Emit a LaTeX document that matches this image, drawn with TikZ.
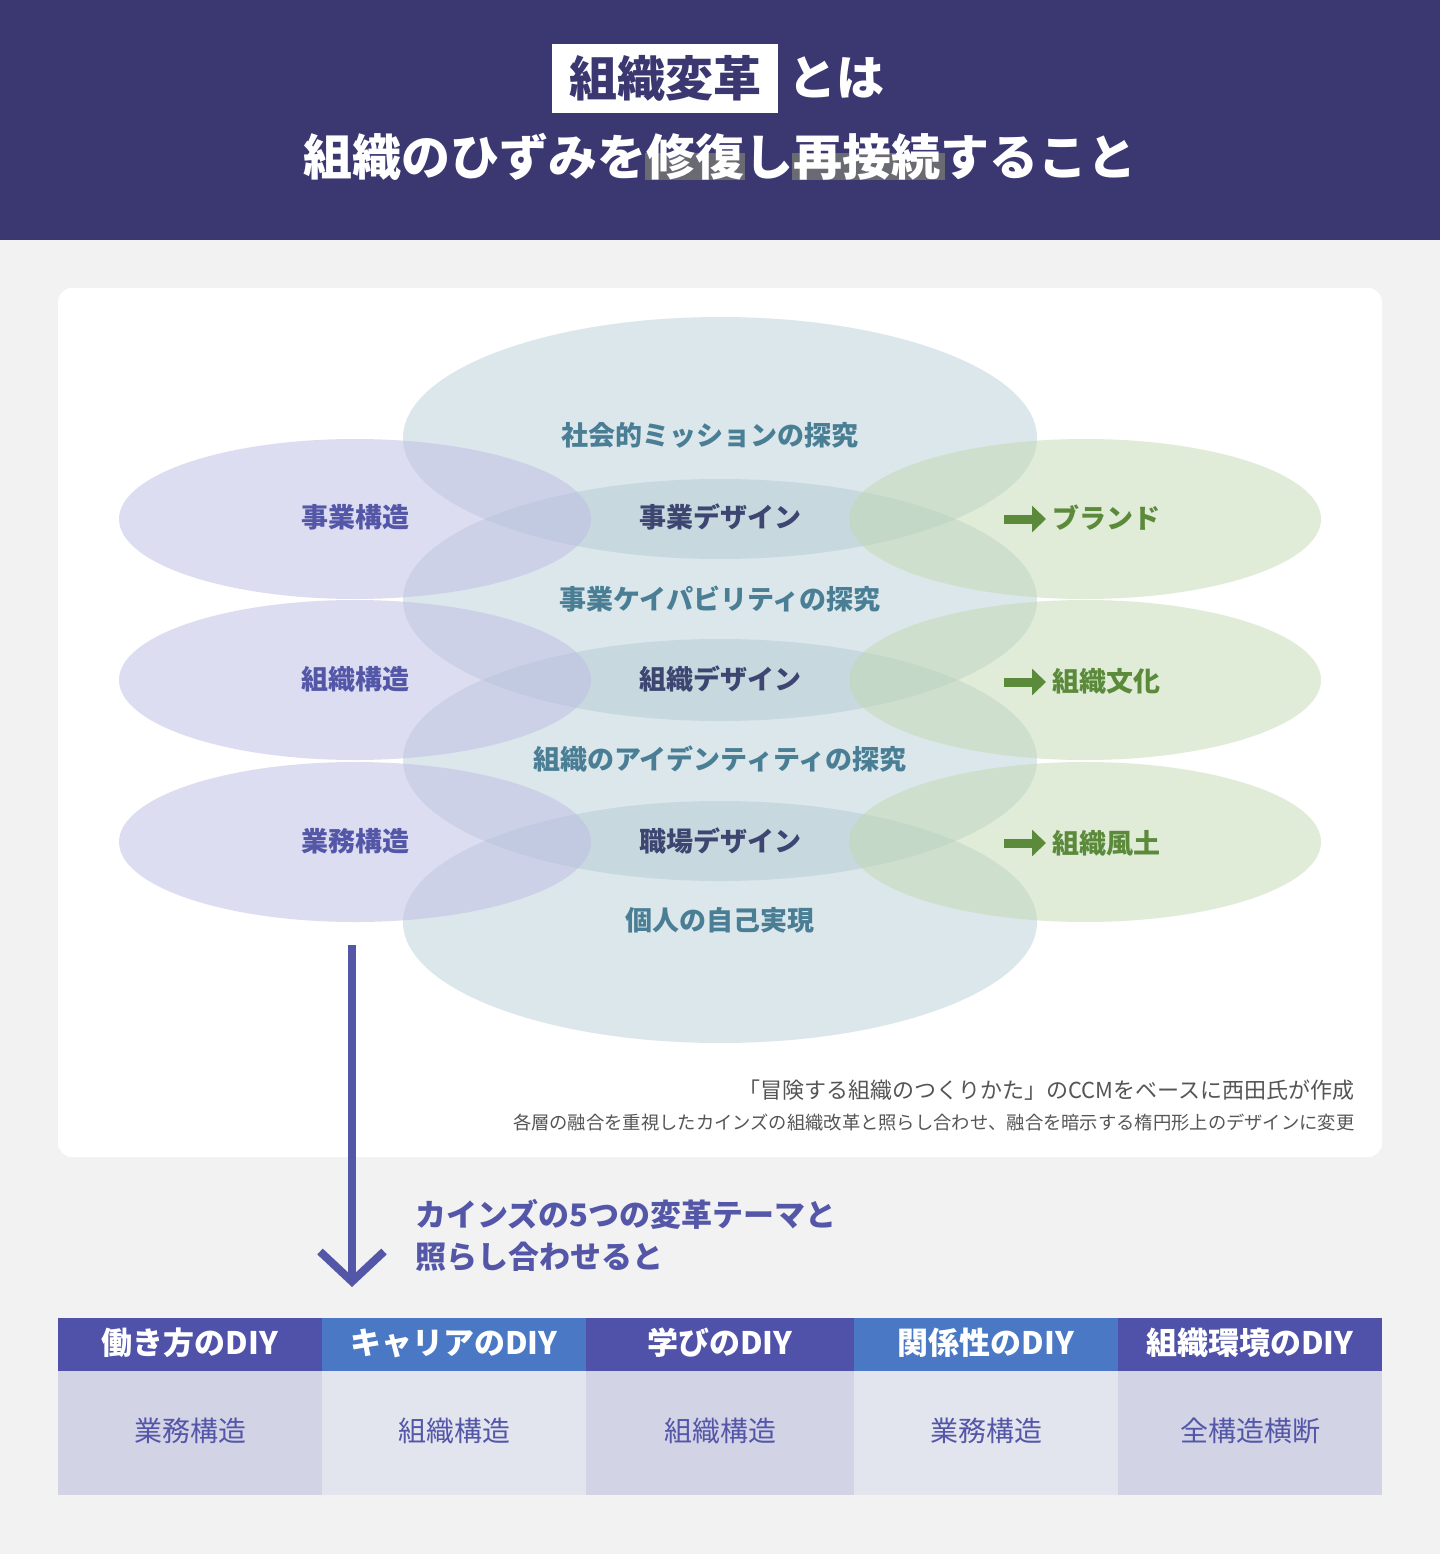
\documentclass[tikz,border=0pt]{standalone}
\usepackage{fontspec}
\setmainfont{Noto Sans CJK JP}
\usetikzlibrary{arrows.meta}
\definecolor{navy}{HTML}{3A3771}
\definecolor{bggray}{HTML}{F2F2F2}
\definecolor{hlgray}{HTML}{6A6A72}
\definecolor{midblue}{HTML}{A9C3CD}
\definecolor{lavender}{HTML}{BDBDE4}
\definecolor{leafgreen}{HTML}{C3D8B2}
\definecolor{purpletext}{HTML}{5457A8}
\definecolor{tealtext}{HTML}{4A7E95}
\definecolor{darktext}{HTML}{3D4670}
\definecolor{greentext}{HTML}{5A8A3A}
\definecolor{captiongray}{HTML}{555555}
\definecolor{headA}{HTML}{4F52A8}
\definecolor{headB}{HTML}{4A78C4}
\definecolor{bodyA}{HTML}{D3D3E6}
\definecolor{bodyB}{HTML}{E3E5EE}

\begin{document}
\begin{tikzpicture}[x=1pt, y=-1pt]

% Styles
\tikzstyle{leftlabel} = [font=\fontsize{27}{30}\selectfont\bfseries, text=purpletext]
\tikzstyle{explore} = [font=\fontsize{27}{30}\selectfont\bfseries, text=tealtext]
\tikzstyle{design} = [font=\fontsize{27}{30}\selectfont\bfseries, text=darktext]
\tikzstyle{rightlabel} = [font=\fontsize{27}{30}\selectfont\bfseries, text=greentext, anchor=west]
\tikzstyle{greenarrow} = [line width=9pt, -{Triangle[length=14pt,width=26pt]}, greentext]
\tikzstyle{headcell} = [font=\fontsize{31}{34}\selectfont\bfseries, text=white]
\tikzstyle{bodycell} = [font=\fontsize{28}{32}\selectfont, text=purpletext]

% Background and header
\fill[bggray] (0,0) rectangle (1440,1554);
\fill[navy] (0,0) rectangle (1440,240);
\fill[white] (552,44) rectangle (778,113);
\node (title) [font=\fontsize{48}{52}\selectfont\bfseries, text=navy] at (665,78) {組織変革};
\node (toha) [font=\fontsize{48}{52}\selectfont\bfseries, text=white, anchor=west] at (785,78) {とは};
\fill[hlgray] (645,153) rectangle (745,180);
\fill[hlgray] (792,153) rectangle (945,180);
\node (subtitle) [font=\fontsize{49}{52}\selectfont\bfseries, text=white] at (720,157) {組織のひずみを修復し再接続すること};

% Card
\fill[white, rounded corners=14pt] (58,288) rectangle (1382,1157);

% Ellipses
\foreach \cy in {438,600,760,922}
  \fill[midblue, fill opacity=0.4] (720,\cy) ellipse [x radius=317, y radius=121];
\foreach \cy in {519,680,842} {
  \fill[lavender, fill opacity=0.5] (355,\cy) ellipse [x radius=236, y radius=80];
  \fill[leafgreen, fill opacity=0.5] (1085,\cy) ellipse [x radius=236, y radius=80];
}

% Labels
\node (mission) [explore] at (710,435) {社会的ミッションの探究};
\node (capab) [explore] at (720,599) {事業ケイパビリティの探究};
\node (ident) [explore] at (720,759) {組織のアイデンティティの探究};
\node (self) [explore] at (720,920) {個人の自己実現};
\node (bizd) [design] at (720,517) {事業デザイン};
\node (orgd) [design] at (720,679) {組織デザイン};
\node (workd) [design] at (720,841) {職場デザイン};
\node (bizs) [leftlabel] at (355,517) {事業構造};
\node (orgs) [leftlabel] at (355,679) {組織構造};
\node (works) [leftlabel] at (355,841) {業務構造};
\node (brand) [rightlabel] at (1049,518) {ブランド};
\node (culture) [rightlabel] at (1049,681) {組織文化};
\node (climate) [rightlabel] at (1049,843) {組織風土};
\foreach \n/\cy in {brand/519,culture/682,climate/843} {
  \coordinate (\n s) at (1004,\cy);
  \draw[greenarrow] (\n s) -- ++(42,0);
}

% Caption
\node (cap1) [font=\fontsize{22}{24}\selectfont, text=captiongray, anchor=east] at (1358,1090) {「冒険する組織のつくりかた」のCCMをベースに西田氏が作成};
\node (cap2) [font=\fontsize{18.3}{20}\selectfont, text=captiongray, anchor=east] at (1358,1122) {各層の融合を重視したカインズの組織改革と照らし合わせ、融合を暗示する楕円形上のデザインに変更};

% Down arrow
\coordinate (downtop) at (352,945);
\coordinate (downend) at (352,1287);
\draw[purpletext, line width=8pt, -{Straight Barb[length=30pt,width=64pt,line width=8pt]}] (downtop) -- (downend);
\node (compare) [font=\fontsize{31}{42}\selectfont\bfseries, text=purpletext, anchor=north west, align=left] at (412,1196) {カインズの5つの変革テーマと\\照らし合わせると};

% Table
\foreach \xa/\xb/\head/\body/\hc/\bc in {
  58/322/働き方のDIY/業務構造/headA/bodyA,
  322/586/キャリアのDIY/組織構造/headB/bodyB,
  586/854/学びのDIY/組織構造/headA/bodyA,
  854/1118/関係性のDIY/業務構造/headB/bodyB,
  1118/1382/組織環境のDIY/全構造横断/headA/bodyA} {
  \fill[\hc] (\xa,1318) rectangle (\xb,1371);
  \fill[\bc] (\xa,1371) rectangle (\xb,1495);
  \node [headcell] at ({(\xa+\xb)/2},1343) {\head};
  \node [bodycell] at ({(\xa+\xb)/2},1431) {\body};
}

\end{tikzpicture}
\end{document}
